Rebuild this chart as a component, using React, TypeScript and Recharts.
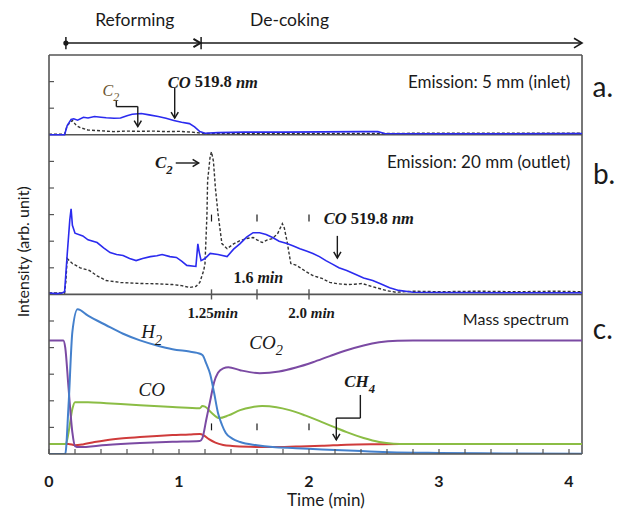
import React from 'react';
import { ComposedChart, Line, XAxis, YAxis, ReferenceLine, ReferenceDot } from 'recharts';

type Pt = [number, number];

// ---- Panel a: emission at 5 mm (inlet) — [time (min), intensity] ----
const inletCO: Pt[] = [
  [0, 0], [0.12, 0], [0.14, 0.35], [0.17, 0.58], [0.19, 0.6], [0.22, 0.55], [0.265, 0.66], [0.3, 0.63],
  [0.35, 0.69], [0.4, 0.66], [0.44, 0.64], [0.5, 0.62], [0.55, 0.63], [0.6, 0.72], [0.64, 0.77],
  [0.71, 0.8], [0.77, 0.75], [0.84, 0.69], [0.9, 0.62], [0.96, 0.54], [1.02, 0.47], [1.08, 0.42],
  [1.12, 0.3], [1.16, 0.12], [1.2, 0.06], [1.3, 0.08], [1.5, 0.1], [1.8, 0.1], [2.1, 0.11],
  [2.4, 0.12], [2.53, 0.12], [2.58, 0.05], [3.0, 0.04], [3.5, 0.04], [4.1, 0.05],
];
const inletC2: Pt[] = [
  [0, 0.02], [0.12, 0.02], [0.14, 0.35], [0.18, 0.54], [0.21, 0.35], [0.24, 0.27], [0.3, 0.18],
  [0.4, 0.15], [0.5, 0.12], [0.6, 0.14], [0.7, 0.13], [0.8, 0.14], [0.9, 0.12], [1.0, 0.13],
  [1.1, 0.1], [1.2, 0.05], [1.5, 0.04], [2.0, 0.05], [2.5, 0.05], [3.0, 0.06], [3.5, 0.06], [4.1, 0.06],
];

// ---- Panel b: emission at 20 mm (outlet) ----
const outletCO: Pt[] = [
  [0, 0.05], [0.06, 0.03], [0.1, 0.05], [0.12, 0.1], [0.14, 1.5], [0.16, 2.8], [0.17, 3.22],
  [0.18, 2.6], [0.2, 2.3], [0.26, 2.2], [0.3, 2.05], [0.37, 1.95], [0.42, 1.75], [0.47, 1.57],
  [0.52, 1.5], [0.57, 1.46], [0.62, 1.35], [0.67, 1.27], [0.72, 1.35], [0.78, 1.42], [0.83, 1.45],
  [0.87, 1.5], [0.93, 1.42], [0.98, 1.39], [1.02, 1.25], [1.06, 1.09], [1.13, 1.05], [1.145, 1.9],
  [1.155, 1.6], [1.17, 1.27], [1.2, 1.35], [1.24, 1.54], [1.3, 1.5], [1.37, 1.42], [1.42, 1.7],
  [1.47, 1.91], [1.52, 2.15], [1.57, 2.32], [1.62, 2.32], [1.67, 2.25], [1.72, 2.14], [1.77, 2.0],
  [1.83, 1.91], [1.88, 1.82], [1.93, 1.72], [1.98, 1.63], [2.03, 1.54], [2.08, 1.42], [2.13, 1.27],
  [2.18, 1.14], [2.23, 1.0], [2.29, 0.9], [2.36, 0.75], [2.42, 0.62], [2.49, 0.52], [2.55, 0.4],
  [2.62, 0.25], [2.69, 0.15], [2.8, 0.08], [3.0, 0.07], [3.5, 0.06], [4.1, 0.06],
];
const outletC2: Pt[] = [
  [0, 0.05], [0.12, 0.05], [0.13, 0.5], [0.14, 1.35], [0.16, 1.25], [0.18, 1.16], [0.24, 1.0],
  [0.31, 0.9], [0.37, 0.7], [0.44, 0.52], [0.55, 0.45], [0.7, 0.41], [0.82, 0.4], [0.95, 0.37],
  [1.02, 0.33], [1.08, 0.26], [1.13, 0.3], [1.16, 0.45], [1.19, 0.9], [1.2, 1.16], [1.215, 3.0],
  [1.22, 4.27], [1.24, 5.2], [1.25, 5.36], [1.265, 5.0], [1.28, 4.0], [1.3, 3.04], [1.33, 1.91],
  [1.37, 1.72], [1.42, 1.9], [1.47, 2.02], [1.52, 2.1], [1.57, 2.14], [1.6, 2.05], [1.64, 1.95],
  [1.68, 2.05], [1.72, 2.1], [1.76, 2.3], [1.795, 2.66], [1.81, 2.5], [1.83, 2.02], [1.86, 1.16],
  [1.9, 1.1], [1.93, 1.01], [1.98, 0.85], [2.03, 0.71], [2.1, 0.6], [2.16, 0.45], [2.22, 0.4],
  [2.29, 0.37], [2.35, 0.38], [2.41, 0.41], [2.48, 0.3], [2.54, 0.22], [2.6, 0.14], [2.67, 0.08],
  [2.8, 0.12], [3.0, 0.1], [3.3, 0.12], [3.6, 0.1], [3.9, 0.12], [4.1, 0.1],
];

// ---- Panel c: mass spectrum ----
const msH2: Pt[] = [
  [0, 0], [0.125, 0], [0.15, 1.8], [0.18, 4.6], [0.22, 5.44], [0.3, 5.2], [0.44, 4.84], [0.57, 4.52],
  [0.7, 4.27], [0.83, 4.08], [0.95, 3.94], [1.08, 3.85], [1.14, 3.8], [1.18, 3.72], [1.21, 3.4],
  [1.24, 3.0], [1.27, 2.3], [1.3, 1.54], [1.33, 1.1], [1.36, 0.79], [1.41, 0.58], [1.47, 0.45],
  [1.6, 0.33], [1.72, 0.26], [1.9, 0.22], [2.1, 0.17], [2.4, 0.11], [2.62, 0.07], [3.0, 0.04],
  [3.5, 0.02], [4.1, 0.01],
];
const msCO2: Pt[] = [
  [0, 4.27], [0.11, 4.27], [0.125, 4.0], [0.15, 2.5], [0.18, 0.8], [0.2, 0.3], [0.23, 0.26],
  [0.44, 0.34], [0.7, 0.41], [0.95, 0.46], [1.16, 0.49], [1.18, 0.6], [1.21, 1.3], [1.24, 2.0],
  [1.27, 2.7], [1.3, 3.05], [1.34, 3.22], [1.38, 3.26], [1.47, 3.15], [1.62, 3.04], [1.77, 3.1],
  [1.9, 3.25], [2.03, 3.45], [2.16, 3.68], [2.29, 3.9], [2.42, 4.08], [2.54, 4.2], [2.68, 4.26],
  [2.8, 4.27], [3.5, 4.27], [4.1, 4.27],
];
const msCO: Pt[] = [
  [0, 0.38], [0.13, 0.38], [0.15, 0.8], [0.18, 1.7], [0.2, 1.95], [0.3, 1.95], [0.44, 1.91],
  [0.7, 1.83], [0.95, 1.77], [1.16, 1.72], [1.18, 1.8], [1.2, 1.78], [1.25, 1.55], [1.31, 1.35],
  [1.38, 1.45], [1.47, 1.65], [1.56, 1.76], [1.64, 1.8], [1.75, 1.76], [1.85, 1.65], [1.97, 1.45],
  [2.1, 1.2], [2.2, 1.0], [2.29, 0.82], [2.42, 0.6], [2.54, 0.45], [2.65, 0.39], [2.75, 0.38], [4.1, 0.38],
];
const msCH4: Pt[] = [
  [0, 0.38], [0.15, 0.38], [0.2, 0.33], [0.26, 0.36], [0.35, 0.45], [0.44, 0.52], [0.57, 0.59],
  [0.7, 0.64], [0.83, 0.68], [0.95, 0.71], [1.08, 0.73], [1.16, 0.75], [1.19, 0.7], [1.23, 0.56],
  [1.28, 0.43], [1.34, 0.34], [1.41, 0.3], [1.55, 0.27], [1.72, 0.26], [1.9, 0.28], [2.1, 0.31],
  [2.29, 0.35], [2.5, 0.37], [2.7, 0.38], [4.1, 0.38],
];

// ---- Axes ----
const X_MAX = 4.1;
const xTicks = [0, 0.2, 0.4, 0.6, 0.8, 1, 1.2, 1.4, 1.6, 1.8, 2, 2.2, 2.4, 2.6, 2.8, 3, 3.2, 3.4, 3.6, 3.8, 4];
const xTickLabels = [0, 1, 2, 3, 4];
const yTicks = [1, 2, 3, 4, 5, 7, 8, 9, 10, 11, 13, 14];
const Y_MAX = 15;
// stacked panels share one y scale; each panel sits on its own baseline
const BASE_A = 12;
const BASE_B = 6;
const BASE_C = 0;
const markTimes = [1.25, 1.6, 2.0];
const phaseStart = 0.13;
const phaseSwitch = 1.17;

const FRAME = '#555';
const INK = '#1a1a1a';
const SANS = 'Lato, "Open Sans", sans-serif';
const MATH = '"Liberation Serif", "DejaVu Serif", serif';

const shift = (pts: Pt[], base: number) => pts.map(([t, v]) => ({ t, v: v + base }));

const XTick = (p: any) => {
  const { x, y, payload } = p;
  const v = payload.value;
  return (
    <g>
      <line x1={x} y1={y} x2={x} y2={y - 5} stroke={FRAME} strokeWidth={1.2} />
      {xTickLabels.includes(v) && (
        <text x={x} y={y + 26} textAnchor="middle" dominantBaseline="central"
          fontFamily={SANS} fontSize={16} fontWeight={700} fill={INK}>{v}</text>
      )}
    </g>
  );
};

const YTick = (p: any) => {
  const { x, y } = p;
  return <line x1={x} y1={y} x2={x + 5} y2={y} stroke={FRAME} strokeWidth={1.2} />;
};

function note(key: string, t: number, y: number, content: React.ReactNode, props: any = {}) {
  const { angle, ...textProps } = props;
  return (
    <ReferenceDot key={key} x={t} y={y} r={0} ifOverflow="visible"
      shape={(p: any) => (
        <text x={p.cx} y={p.cy} textAnchor="middle" dominantBaseline="central" fill={INK}
          {...textProps} transform={angle ? `rotate(${angle}, ${p.cx}, ${p.cy})` : undefined}>
          {content}
        </text>
      )} />
  );
}

function seg(key: string, a: Pt, b: Pt, color = INK, width = 1.4) {
  return (
    <ReferenceLine key={key} segment={[{ x: a[0], y: a[1] }, { x: b[0], y: b[1] }]}
      ifOverflow="visible" stroke={color} strokeWidth={width} />
  );
}

function head(key: string, t: number, y: number, dir: 'right' | 'down', size = 6, width = 1.5) {
  return (
    <ReferenceDot key={key} x={t} y={y} r={0} ifOverflow="visible"
      shape={(p: any) => {
        const { cx, cy } = p;
        const d = dir === 'right'
          ? `M${cx - size},${cy - size * 0.6} L${cx},${cy} L${cx - size},${cy + size * 0.6}`
          : `M${cx - size * 0.6},${cy - size} L${cx},${cy} L${cx + size * 0.6},${cy - size}`;
        return <path d={d} fill="none" stroke={INK} strokeWidth={width} />;
      }} />
  );
}

function dot(key: string, t: number, y: number, r: number) {
  return <ReferenceDot key={key} x={t} y={y} r={r} fill={INK} stroke="none" ifOverflow="visible" />;
}

const sub = (s: string) => <tspan baselineShift="sub" fontSize="75%">{s}</tspan>;

export default function App() {
  return (
    <div style={{ position: 'absolute', left: 0, top: 0, width: 625, height: 510, background: '#fff' }}>
      <ComposedChart width={625} height={510} margin={{ top: 55, right: 43, bottom: 36, left: 29 }}>
        <XAxis dataKey="t" type="number" domain={[0, X_MAX]} ticks={xTicks} interval={0}
          allowDataOverflow height={20} tickSize={0} tickMargin={0} tickLine={false}
          axisLine={{ stroke: FRAME, strokeWidth: 1.6 }} tick={(p: any) => <XTick {...p} />} />
        <YAxis type="number" domain={[0, Y_MAX]} ticks={yTicks} interval={0} allowDataOverflow
          width={20} tickSize={0} tickMargin={0} tickLine={false}
          axisLine={{ stroke: FRAME, strokeWidth: 1.6 }} tick={(p: any) => <YTick {...p} />} />

        {/* frame and panel separators */}
        <ReferenceLine y={Y_MAX} stroke={FRAME} strokeWidth={1.6} />
        <ReferenceLine x={X_MAX} stroke={FRAME} strokeWidth={1.6} />
        <ReferenceLine y={BASE_A} stroke={FRAME} strokeWidth={1.6} />
        <ReferenceLine y={BASE_B} stroke={FRAME} strokeWidth={1.6} />

        {/* panel a */}
        <Line data={shift(inletC2, BASE_A)} dataKey="v" type="linear" stroke="#333" strokeWidth={1.4}
          strokeDasharray="3 2" dot={false} activeDot={false} isAnimationActive={false} />
        <Line data={shift(inletCO, BASE_A)} dataKey="v" type="linear" stroke="#2b2bef" strokeWidth={1.6}
          dot={false} activeDot={false} isAnimationActive={false} />

        {/* panel b */}
        <Line data={shift(outletC2, BASE_B)} dataKey="v" type="linear" stroke="#333" strokeWidth={1.4}
          strokeDasharray="3 2" dot={false} activeDot={false} isAnimationActive={false} />
        <Line data={shift(outletCO, BASE_B)} dataKey="v" type="linear" stroke="#2b2bef" strokeWidth={1.6}
          dot={false} activeDot={false} isAnimationActive={false} />

        {/* panel c */}
        <Line data={shift(msCH4, BASE_C)} dataKey="v" type="monotone" stroke="#cf3b3b" strokeWidth={2}
          dot={false} activeDot={false} isAnimationActive={false} />
        <Line data={shift(msCO, BASE_C)} dataKey="v" type="monotone" stroke="#8bbd45" strokeWidth={2}
          dot={false} activeDot={false} isAnimationActive={false} />
        <Line data={shift(msCO2, BASE_C)} dataKey="v" type="monotone" stroke="#7b4aa3" strokeWidth={2}
          dot={false} activeDot={false} isAnimationActive={false} />
        <Line data={shift(msH2, BASE_C)} dataKey="v" type="monotone" stroke="#4480cc" strokeWidth={2}
          dot={false} activeDot={false} isAnimationActive={false} />

        {/* phase arrow above the frame */}
        {seg('phase', [phaseStart, 15.45], [X_MAX, 15.45], INK, 1.5)}
        {seg('phase-s', [phaseStart, 15.22], [phaseStart, 15.68], INK, 1.5)}
        {seg('phase-m', [phaseSwitch, 15.22], [phaseSwitch, 15.68], INK, 1.5)}
        {dot('phase-dot', phaseStart, 15.45, 2.6)}
        {head('phase-h1', phaseSwitch - 0.005, 15.45, 'right', 7, 2)}
        {head('phase-h2', X_MAX, 15.45, 'right', 8, 1.6)}
        {note('reforming', 0.66, 16.32, 'Reforming', { fontFamily: SANS, fontSize: 17.5 })}
        {note('decoking', 1.85, 16.32, 'De-coking', { fontFamily: SANS, fontSize: 17.5 })}

        {/* panel a notes */}
        {note('a-title', 4.01, 14.0, 'Emission: 5 mm (inlet)', { fontFamily: SANS, fontSize: 17, textAnchor: 'end' })}
        {note('a-tag', 4.26, 13.85, 'a.', { fontFamily: SANS, fontSize: 28 })}
        {note('a-c2', 0.476, 13.68, <>C{sub('2')}</>, { fontFamily: MATH, fontStyle: 'italic', fontSize: 16, fill: '#6b5530' })}
        {seg('a-c2-1', [0.518, 13.31], [0.518, 13.06])}
        {seg('a-c2-2', [0.518, 13.06], [0.683, 13.06])}
        {seg('a-c2-3', [0.683, 13.06], [0.683, 12.31])}
        {head('a-c2-h', 0.683, 12.31, 'down')}
        {note('a-co', 1.26, 14.0, <><tspan fontStyle="italic">CO</tspan> 519.8 <tspan fontStyle="italic">nm</tspan></>, { fontFamily: MATH, fontSize: 16.5, fontWeight: 700 })}
        {seg('a-co-a', [0.967, 13.76], [0.967, 12.63])}
        {head('a-co-h', 0.967, 12.63, 'down')}

        {/* panel b notes */}
        {note('b-title', 4.01, 10.98, 'Emission: 20 mm (outlet)', { fontFamily: SANS, fontSize: 17, textAnchor: 'end' })}
        {note('b-tag', 4.27, 10.56, 'b.', { fontFamily: SANS, fontSize: 28 })}
        {note('b-c2', 0.883, 10.94, <>C{sub('2')}</>, { fontFamily: MATH, fontStyle: 'italic', fontWeight: 700, fontSize: 17 })}
        {seg('b-c2-a', [0.975, 10.94], [1.151, 10.94])}
        {head('b-c2-h', 1.151, 10.94, 'right')}
        {note('b-co', 2.46, 8.87, <><tspan fontStyle="italic">CO</tspan> 519.8 <tspan fontStyle="italic">nm</tspan></>, { fontFamily: MATH, fontSize: 16.5, fontWeight: 700 })}
        {seg('b-co-a', [2.218, 8.2], [2.218, 7.37])}
        {head('b-co-h', 2.218, 7.37, 'down')}
        {markTimes.map((m) => seg(`b-mk-${m}`, [m, 8.74], [m, 9.0], INK, 1.2))}
        {markTimes.map((m) => seg(`bc-tk-${m}`, [m, 5.81], [m, 6.19], FRAME, 1.4))}
        {note('b-16', 1.61, 6.65, <>1.6 <tspan fontStyle="italic">min</tspan></>, { fontFamily: MATH, fontSize: 16, fontWeight: 700 })}

        {/* panel c notes */}
        {note('c-125', 1.26, 5.3, <>1.25<tspan fontStyle="italic">min</tspan></>, { fontFamily: MATH, fontSize: 15, fontWeight: 700 })}
        {note('c-20', 2.02, 5.3, <>2.0 <tspan fontStyle="italic">min</tspan></>, { fontFamily: MATH, fontSize: 15, fontWeight: 700 })}
        {note('c-title', 4.0, 5.11, 'Mass spectrum', { fontFamily: SANS, fontSize: 16, textAnchor: 'end' })}
        {note('c-tag', 4.26, 4.74, 'c.', { fontFamily: SANS, fontSize: 28 })}
        {note('c-h2', 0.79, 4.59, <>H{sub('2')}</>, { fontFamily: MATH, fontStyle: 'italic', fontSize: 19 })}
        {note('c-co2', 1.67, 4.21, <>CO{sub('2')}</>, { fontFamily: MATH, fontStyle: 'italic', fontSize: 19 })}
        {note('c-co', 0.79, 2.41, 'CO', { fontFamily: MATH, fontStyle: 'italic', fontSize: 19 })}
        {note('c-ch4', 2.39, 2.71, <>CH{sub('4')}</>, { fontFamily: MATH, fontStyle: 'italic', fontWeight: 700, fontSize: 17 })}
        {seg('c-ch4-1', [2.395, 2.22], [2.395, 1.35])}
        {seg('c-ch4-2', [2.395, 1.35], [2.21, 1.35])}
        {seg('c-ch4-3', [2.21, 1.35], [2.21, 0.53])}
        {head('c-ch4-h', 2.21, 0.53, 'down')}
        {markTimes.map((m) => seg(`c-mk-${m}`, [m, 0.89], [m, 1.15], INK, 1.2))}

        {/* axis titles */}
        {note('x-title', 2.13, -1.72, 'Time  (min)', { fontFamily: SANS, fontSize: 17 })}
        {note('y-title', -0.207, 7.6, 'Intensity (arb. unit)', { fontFamily: SANS, fontSize: 16, angle: -90 })}
      </ComposedChart>
    </div>
  );
}
